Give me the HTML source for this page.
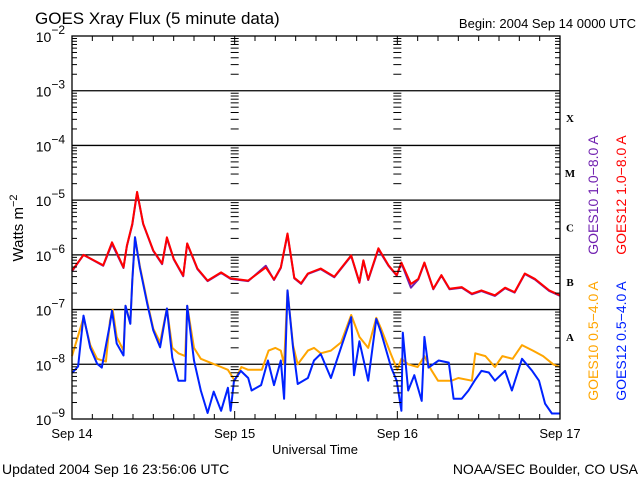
<!DOCTYPE html>
<html><head><meta charset="utf-8"><style>
html,body{margin:0;padding:0;background:#fff;}
svg{display:block;font-family:"Liberation Sans",sans-serif;}
</style></head><body>
<svg id="chart" width="640" height="480" viewBox="0 0 640 480">
<text x="35" y="24" font-size="17">GOES Xray Flux (5 minute data)</text>
<text x="636" y="28" font-size="13" text-anchor="end">Begin:  2004 Sep 14 0000 UTC</text>
<g id="grid"></g>
<g id="series"></g>
<rect x="72" y="36" width="488" height="383" fill="none" stroke="#000" stroke-width="1.3"/>
<g id="ticks"></g>
<g id="labels"></g>
<text transform="translate(23,228) rotate(-90)" font-size="15" text-anchor="middle">Watts m<tspan dy="-6" font-size="11">−2</tspan></text>
<text x="315" y="454" font-size="13" text-anchor="middle">Universal Time</text>
<text x="2" y="474" font-size="14">Updated 2004 Sep 16 23:56:06 UTC</text>
<text x="638" y="474" font-size="14" text-anchor="end">NOAA/SEC Boulder, CO USA</text>
<text transform="translate(598,195) rotate(-90)" font-size="14" fill="#7020b0" text-anchor="middle">GOES10 1.0−8.0 A</text>
<text transform="translate(626,195) rotate(-90)" font-size="14" fill="#ff0000" text-anchor="middle">GOES12 1.0−8.0 A</text>
<text transform="translate(598,341) rotate(-90)" font-size="14" fill="#ffa500" text-anchor="middle">GOES10 0.5−4.0 A</text>
<text transform="translate(626,341) rotate(-90)" font-size="14" fill="#0022ff" text-anchor="middle">GOES12 0.5−4.0 A</text>
</svg>
<script>
const dayLabels=["Sep 14","Sep 15","Sep 16","Sep 17"];
const decadeExps=[-2,-3,-4,-5,-6,-7,-8,-9];
const flareClasses=["X","M","C","B","A"];
const flareClassExps=[-3.5,-4.5,-5.5,-6.5,-7.5];
const redHours=[0,1.7,4.6,5.9,7.6,8.1,8.9,9.6,10.5,12,13.3,14,15,16.4,17,18.5,20,22,23.4,26,28.6,29.8,30.8,31.8,32.8,33.8,34.8,36.7,38.7,41.2,42.4,43,43.7,45.2,46.7,47.9,48.6,50,51.1,52,53.3,54.5,55.7,57.5,59,60.4,62.4,63.9,65.3,66.8,68.3,70.4,72];
const redVals=[-6.29,-6.0,-6.19,-5.77,-6.23,-5.83,-5.43,-4.85,-5.43,-5.92,-6.16,-5.68,-6.07,-6.38,-5.79,-6.25,-6.47,-6.32,-6.43,-6.47,-6.23,-6.45,-6.23,-5.61,-6.42,-6.52,-6.34,-6.25,-6.4,-6.01,-6.5,-6.1,-6.45,-5.88,-6.19,-6.37,-6.14,-6.53,-6.44,-6.14,-6.62,-6.37,-6.62,-6.59,-6.71,-6.65,-6.74,-6.6,-6.68,-6.34,-6.44,-6.65,-6.74];
const purpleVals=[-6.3,-6.0,-6.2,-5.8,-6.24,-5.84,-5.45,-4.86,-5.44,-5.93,-6.17,-5.7,-6.08,-6.39,-5.8,-6.26,-6.48,-6.33,-6.44,-6.48,-6.2,-6.46,-6.24,-5.63,-6.43,-6.53,-6.35,-6.26,-6.41,-6.02,-6.51,-6.11,-6.46,-5.9,-6.2,-6.38,-6.15,-6.6,-6.45,-6.15,-6.63,-6.38,-6.63,-6.6,-6.72,-6.66,-6.75,-6.61,-6.69,-6.35,-6.45,-6.66,-6.75];
const blueHours=[0,0.9,1.7,2.7,3.7,4.4,5.6,5.9,6.6,7.6,7.9,8.6,8.9,9.3,10,11.1,12,13,14,14.8,15.7,16.7,17,18,19,20,20.9,22,23,23.4,23.9,24.9,26,26.5,27.9,28.9,29.8,30.8,31.3,31.8,32.6,33.3,34.8,35.7,36.7,38.2,39.7,41.2,41.6,42.4,43.7,44.9,45.6,47.1,47.9,48.6,48.8,49.6,50.5,51.6,52,52.6,54.1,55.6,56.3,57.5,58.5,59.4,60.4,61.5,62.4,63.9,64.9,66.4,67.9,68.9,69.8,70.8,72];
const blueVals=[-8.16,-8.04,-7.11,-7.7,-7.99,-8.06,-7.26,-7.02,-7.62,-7.84,-6.93,-7.26,-6.47,-5.68,-6.23,-6.89,-7.38,-7.69,-6.98,-7.88,-8.3,-8.3,-6.93,-7.93,-8.48,-8.89,-8.5,-8.85,-8.43,-8.85,-8.3,-8.12,-8.25,-8.48,-8.38,-7.93,-8.38,-7.93,-8.63,-6.65,-7.69,-8.36,-8.25,-7.93,-7.81,-8.25,-7.69,-7.14,-8.2,-7.58,-8.3,-7.17,-7.42,-8.06,-8.3,-8.85,-7.42,-8.48,-8.2,-8.67,-7.5,-8.06,-7.93,-7.97,-8.63,-8.63,-8.48,-8.3,-8.12,-8.15,-8.3,-8.12,-8.48,-7.9,-8.12,-8.3,-8.72,-8.9,-8.9];
const orangeHours=[0,1.7,2.7,3.7,5,5.6,6,6.6,7.6,7.9,8.6,8.9,9.3,10,11.1,12,13,14,14.8,15.7,16.7,17,18,19,20,22,23,24,25,26,28,29,30,30.8,31.3,31.8,32.6,33.3,34.8,35.7,36.7,38.2,39.7,41.2,42.4,43.7,44.9,45.6,47,48,48.6,49.6,51,52,53,54,56,57,59,59.5,61,62.4,63.5,65,66.4,68,69.5,71,72];
const orangeVals=[-7.85,-7.15,-7.65,-7.9,-7.95,-7.2,-7.0,-7.5,-7.75,-6.93,-7.25,-6.47,-5.68,-6.2,-6.85,-7.35,-7.6,-6.98,-7.7,-7.8,-7.85,-6.93,-7.7,-7.9,-7.95,-8.05,-8.1,-8.3,-8.05,-8.1,-8.1,-7.75,-7.7,-7.75,-8.0,-6.65,-7.65,-8.0,-7.75,-7.7,-7.8,-7.75,-7.6,-7.1,-7.5,-7.7,-7.15,-7.35,-7.8,-8.1,-7.9,-8.0,-8.05,-7.85,-8.1,-8.3,-8.3,-8.25,-8.3,-7.8,-7.85,-8.05,-7.85,-7.9,-7.65,-7.75,-7.85,-8.0,-8.05];

const NS="http://www.w3.org/2000/svg";
const X0=72,X1=560,Y0=36,Y1=419;
function xScale(h){return X0+(X1-X0)*h/72;}
function yScale(l){return Y0+(Y1-Y0)*(-2-l)/7;}
function mk(tag,attrs,parent){const e=document.createElementNS(NS,tag);for(const k in attrs)e.setAttribute(k,attrs[k]);parent.appendChild(e);return e;}
const grid=document.getElementById('grid'),ticks=document.getElementById('ticks'),labels=document.getElementById('labels'),series=document.getElementById('series');
decadeExps.forEach((d,i)=>{
  const y=yScale(d);
  if(d<-2&&d>-9){const g=mk('line',{x1:X0,x2:X1,y1:y,y2:y,stroke:'#000','stroke-width':1.3},grid);
    
    }
  const t=mk('text',{x:65,y:y+6,'font-size':14,'text-anchor':'end'},labels);
  
  
  t.innerHTML='10<tspan dy="-8" font-size="12">−'+(-d)+'</tspan>';
  if(d>-9){for(let m=2;m<=9;m++){const yy=yScale(d-1+Math.log10(m));
    [[X0,X0+5],[X1-5,X1],[xScale(24)-4,xScale(24)+4],[xScale(48)-4,xScale(48)+4]].forEach(p=>{
      const tk=mk('line',{x1:p[0],x2:p[1],y1:yy,y2:yy,stroke:'#000','stroke-width':1},ticks);
      
      });}}
});
for(let h=0;h<=72;h+=3){const x=xScale(h);const len=(h%24===0)?8:5;
  const a=mk('line',{x1:x,x2:x,y1:Y1,y2:Y1-len,stroke:'#000','stroke-width':1},ticks);
  
  
  const b=mk('line',{x1:x,x2:x,y1:Y0,y2:Y0+len,stroke:'#000','stroke-width':1},ticks);
  
  }
dayLabels.forEach((s,i)=>{const t=mk('text',{x:xScale(i*24),y:438,'font-size':13,'text-anchor':'middle'},labels);
  
  
  t.textContent=s;});
flareClasses.forEach((c,i)=>{const t=mk('text',{x:570,y:yScale(flareClassExps[i])+4,'font-size':11,'font-weight':'bold','font-family':'Liberation Serif, serif','text-anchor':'middle'},labels);
  
  
  t.textContent=c;});
function drawLine(hours,vals,color,name){
  let d='';hours.forEach((h,i)=>{const x=xScale(h),y=yScale(vals[i]);
    d+=(i===0?'M':' L')+x.toFixed(1)+' '+y.toFixed(1);});
  const p=mk('path',{d:d,fill:'none',stroke:color,'stroke-width':2,'stroke-linejoin':'round'},series);
  
  }
drawLine(redHours,purpleVals,'#7020b0','goes10-long-line');
drawLine(redHours,redVals,'#ff0000','goes12-long-line');
drawLine(orangeHours,orangeVals,'#ffa500','goes10-short-line');
drawLine(blueHours,blueVals,'#0022ff','goes12-short-line');
</script>
</body></html>
